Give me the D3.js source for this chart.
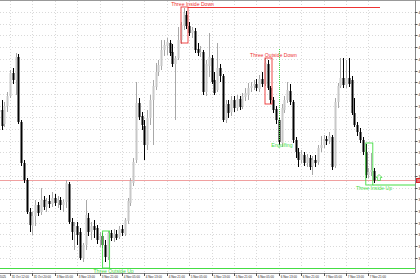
<!DOCTYPE html>
<meta charset="utf-8">
<script src="https://d3js.org/d3.v7.min.js"></script>
<style>
  body { margin: 0; background: #fff; }
  svg { display: block; }
</style>
<div id="chart"></div>
<script>

// hourly bars, 31 Oct 08:00 .. 7 Nov 23:00
var opens = [3994,3995,3988,3997,4002,4013.5,4010,4021.5,3989,3968.5,3960,3944,3937,3942,3947.5,3944,3950,3946.5,3949.5,3948,
  3951,3948.5,3950,3947.5,3949,3958,3939,3934,3937,3934,3921,3927.5,3941,3934,3937,3936,3930,3932,3927.5,3921.5,
  3933.5,3931,3933,3931.5,3935.5,3933,3939.5,3948.5,3958.5,3970,3998.5,3992,3987,3977.5,3991,4000,4006.5,4014,4017,4025,
  4027,4028.5,4024,4018,4021,4030,4037,4042.5,4037,4033.5,4034.5,4025.5,4023.5,4024,4004,4017,4021,4010,4005,4016,
  4012,3990,3998,3994,4000,3996,4000.5,3997,4001.5,4002.5,4006,4007,4008,4005.5,4010.5,4008,4018,4006,4000,3995.5,
  3990,3978.5,3995,4000,4004.5,3999,3980,3974,3970,3972.5,3968.5,3971,3967,3970,3969,3976,3977.5,3980.5,3979.5,3981.5,
  3967,3999,4007,4011,4007.5,4011,4010,3993.5,3987.5,3984,3980,3974,3962.5,3964,3964.5];
var highs = [3997.5,4000,3999,4004,4015,4016,4023.5,4023,3990,3970,3961,3946,3944,3950,3949,3956,3952,3951,3952.5,3954,
  3953,3952,3951.5,3950.5,3960,3959,3941,3939,3939,3936,3928.5,3950,3943.5,3939,3940,3937.5,3934,3933.5,3930,3934.5,
  3935,3935.5,3935,3937,3937.5,3941,3951,3961,3971,4009,4001,3994,3990,3995,4002.5,4010,4018.5,4020,4030,4030,
  4031,4030,4028,4022,4036.5,4039,4046,4044.5,4039,4036.5,4036,4028.5,4027,4025,4020,4033.5,4022.5,4014,4028.5,4018,
  4013,4000,4000,4002,4002,4002.5,4002,4003.5,4006,4008.5,4009,4010,4010.5,4012.5,4014,4021,4020,4007,4001.5,3997,
  3991.5,3998,4002,4009,4008,4000,3981.5,3976,3975,3974,3973,3972.5,3972,3972.5,3977.5,3982,3982.5,3982,3984,3982.5,
  4001,4008.5,4021,4021,4020,4021,4012,4001,3989,3986,3981.5,3978,3966,3973.5,3966];
var lows = [3991,3985,3986.5,3994,4001,4008,4002.5,3988,3967,3958.5,3943,3934,3932.5,3937,3942,3942.5,3945,3944,3946,3946.5,
  3947,3946,3945,3944,3946,3938,3930,3925,3927.5,3920,3919,3925,3932,3930,3931,3928,3926.5,3926,3919,3920,
  3929.5,3929,3930,3930.5,3932,3932,3938,3947,3957,3968.5,3990,3985,3970,3975,3987.5,3977.5,4005,4012,4015,4022,
  4022.5,4022,4016.5,3990,4020,4028,4035,4035.5,4032,4031,4023.5,4022,4021.5,4002.5,4002,4011.5,4008,4002.5,4004,4009,
  3989,3988.5,3991,3992,3994,3994.5,3995,3995.5,3999.5,4000,4004,4005,4004.5,4004,4006.5,4007,4005,3998,3993.5,3988,
  3977.5,3976.5,3993.5,3998.5,3997.5,3978.5,3971,3966.5,3968.5,3967,3966.5,3965,3962.5,3966.5,3967.5,3974,3976,3977.5,3978,3965,
  3966,3996,4006,4006,4006,4006.5,3992.5,3986.5,3982,3978.5,3972.5,3961,3961,3962,3958.5];
var closes = [3995,3987,3997,4002,4013.5,4010,4021.5,3989,3968.5,3960,3944,3937.5,3942,3947.5,3943.5,3950,3946.5,3949.5,3948,3951,
  3948.5,3950,3947.5,3949,3958.5,3939,3934,3937,3932.5,3921,3927.5,3942.5,3934,3937,3935,3930,3932,3927.5,3921.5,3933.5,
  3931,3933,3931,3935.5,3933.5,3940,3949.5,3959.5,3969,3998.5,3991.5,3987.5,3977.5,3991,4000,4007,4014,4017.5,4025,4027.5,
  4029,4023.5,4018,4021,4030,4037.5,4043.5,4037,4033.5,4035,4025,4023.5,4024,4004,4018,4021.5,4009,4003.5,4016,4012,
  3990,3998,3993.5,4000,3996,4000.5,3996.5,4002,4003.5,4006,4007,4008,4006,4010.5,4008,4018.5,4006,4000,3995,3990,
  3979,3996,4000,4005,3999,3980,3974,3970,3973,3968.5,3971.5,3966.5,3970,3968.5,3976,3977.5,3980.5,3979.5,3982,3966.5,
  3999,4007,4011,4007.5,4011,4008,3993.5,3987.5,3984,3980,3974,3962.5,3964,3965,3959.75];

// time axis: bar index of each label and its text
var tickBars = [-4,4,12,20,28,36,44,52,60,68,76,84,92,100,108,116,124,132];
var tickLabels = ["31 Oct 2025","31 Oct 12:00","31 Oct 20:00","3 Nov 05:00","3 Nov 13:00","3 Nov 21:00","4 Nov 05:00",
  "4 Nov 13:00","4 Nov 21:00","5 Nov 05:00","5 Nov 13:00","5 Nov 21:00","6 Nov 05:00","6 Nov 13:00","6 Nov 21:00",
  "7 Nov 05:00","7 Nov 13:00","7 Nov 21:00"];

// price axis labels
var priceTicks = [4044.00,4038.15,4032.30,4026.45,4020.60,4014.75,4008.90,4003.05,3997.20,3991.35,3985.50,
  3979.65,3973.80,3967.95,3962.10,3956.25,3950.40,3944.55,3938.70,3932.85,3927.00,3921.15];

var lastPrice = 3959.75;
var supportLevel = 3915.75;

// detected patterns: first bar, last bar, box top / bottom price, label anchor bar
var patNames  = ["Three Inside Down","Three Outside Down","Three Inside Up","Three Outside Up"];
var patStart  = [65, 95, 131, 37];
var patEnd    = [67, 97, 133, 39];
var patTop    = [4046.5, 4021, 3978.5, 3934.5];
var patBottom = [4028.5, 3998, 3957.5, 3916];
var patBull   = [false, false, true, true];
var patLabelAt = [69.2, 98.1, 134, 41];

var W = 420, H = 280, plotR = 415, plotB = 273;

var svg = d3.select("#chart").append("svg")
  .attr("width", W).attr("height", H)
  .style("font-family", "'Liberation Sans', Arial, sans-serif");

var x = d3.scaleLinear().domain([0, 134]).range([-1.2, 374]);
var y = d3.scaleLinear().domain([4050, 3910]).range([0, 280]);

var red = "#ee3333", green = "#44dd44";

// grid
svg.append("g").selectAll("line").data(tickBars).join("line")
  .attr("x1", d => Math.round(x(d)) + 0.5).attr("x2", d => Math.round(x(d)) + 0.5)
  .attr("y1", 1).attr("y2", plotB)
  .attr("stroke", "#d9d9d9").attr("stroke-dasharray", "1,2");
svg.append("g").selectAll("line").data(priceTicks).join("line")
  .attr("x1", 0).attr("x2", plotR)
  .attr("y1", d => Math.round(y(d)) + 0.5).attr("y2", d => Math.round(y(d)) + 0.5)
  .attr("stroke", "#d9d9d9").attr("stroke-dasharray", "1,2");

// levels
svg.append("line").attr("x1", 0).attr("x2", plotR)
  .attr("y1", y(lastPrice)).attr("y2", y(lastPrice))
  .attr("stroke", "#f0a0a0").attr("stroke-width", 1);
svg.append("line").attr("x1", 0).attr("x2", plotR)
  .attr("y1", y(supportLevel)).attr("y2", y(supportLevel))
  .attr("stroke", green).attr("stroke-width", 1.2);

// pattern boxes and extension lines
var pats = patNames.map(function(n, i) {
  return {name: n, s: patStart[i], e: patEnd[i], top: patTop[i], bot: patBottom[i],
          bull: patBull[i], at: patLabelAt[i]};
});
svg.append("line")
  .attr("x1", x(patEnd[0]) + 1.5).attr("x2", 380)
  .attr("y1", y(patTop[0]) + 0.5).attr("y2", y(patTop[0]) + 0.5)
  .attr("stroke", red);
svg.append("line")
  .attr("x1", x(patEnd[2]) + 1.5).attr("x2", plotR)
  .attr("y1", y(patBottom[2])).attr("y2", y(patBottom[2]))
  .attr("stroke", green);

// candles
var bars = d3.range(opens.length).map(function(i) {
  return {i: i, o: opens[i], h: highs[i], l: lows[i], c: closes[i]};
});
var cg = svg.append("g");
cg.selectAll("line").data(bars).join("line")
  .attr("x1", d => Math.round(x(d.i)) + 0.5).attr("x2", d => Math.round(x(d.i)) + 0.5)
  .attr("y1", d => y(d.h)).attr("y2", d => y(d.l))
  .attr("stroke", d => d.c >= d.o ? "#a8a8a8" : "#000");
cg.selectAll("rect").data(bars).join("rect")
  .attr("x", d => Math.round(x(d.i)) - 0.5)
  .attr("width", 2)
  .attr("y", d => y(Math.max(d.o, d.c)))
  .attr("height", d => Math.max(1, Math.abs(y(d.o) - y(d.c))))
  .attr("fill", d => d.c >= d.o ? "#c8c8c8" : "#000");

svg.append("g").selectAll("rect").data(pats).join("rect")
  .attr("x", d => x(d.s) + 0.2).attr("width", d => x(d.e) - x(d.s) + 1.4)
  .attr("y", d => y(d.top)).attr("height", d => y(d.bot) - y(d.top))
  .attr("fill", "none").attr("stroke", d => d.bull ? green : red).attr("stroke-width", 0.9);

svg.append("g").selectAll("text").data(pats).join("text")
  .attr("x", d => x(d.at))
  .attr("y", d => d.bull ? y(d.bot) + 4.8 : y(d.top) - 1.2)
  .attr("text-anchor", "middle")
  .attr("font-size", 5.1)
  .attr("fill", d => d.bull ? green : red)
  .text(d => d.name);

// engulfing marker
svg.append("line")
  .attr("x1", Math.round(x(100)) + 0.5).attr("x2", Math.round(x(100)) + 0.5)
  .attr("y1", y(4025.5)).attr("y2", y(3980))
  .attr("stroke", green).attr("stroke-dasharray", "1,1");
svg.append("text")
  .attr("x", x(101.1)).attr("y", y(3976.5))
  .attr("text-anchor", "middle").attr("font-size", 5.1)
  .attr("fill", green).text("Engulfing");

// arrow at the last bar
var ax = x(134) + 5, ay = y(3961);
svg.append("path")
  .attr("d", "M" + ax + "," + (ay - 3.5) + " l3,3 h-1.6 v3 h-2.8 v-3 h-1.6 z")
  .attr("fill", "none").attr("stroke", green).attr("stroke-width", 0.8);

// frame
svg.append("line").attr("x1", 0).attr("x2", W).attr("y1", 0.5).attr("y2", 0.5)
  .attr("stroke", "#999");
svg.append("line").attr("x1", plotR + 0.5).attr("x2", plotR + 0.5).attr("y1", 0).attr("y2", plotB)
  .attr("stroke", "#888");
svg.append("line").attr("x1", 0).attr("x2", plotR).attr("y1", plotB + 0.5).attr("y2", plotB + 0.5)
  .attr("stroke", "#888");

// price axis
var pa = svg.append("g").selectAll("g").data(priceTicks).join("g")
  .attr("transform", d => "translate(" + plotR + "," + (Math.round(y(d)) + 0.5) + ")");
pa.append("line").attr("x2", 2.5).attr("stroke", "#555");
pa.append("text").attr("x", 3.5).attr("dy", 1.2).attr("font-size", 3.4).attr("fill", "#222")
  .text(d => d.toFixed(2));

svg.append("rect").attr("x", plotR + 1).attr("y", y(lastPrice) - 2.5)
  .attr("width", 6).attr("height", 5).attr("fill", "#dd2222");
svg.append("text").attr("x", plotR + 2).attr("y", y(lastPrice) + 1.2)
  .attr("font-size", 3.4).attr("fill", "#fff").text(lastPrice.toFixed(2));

// time axis
var ta = svg.append("g").selectAll("g").data(tickBars).join("g")
  .attr("transform", d => "translate(" + (Math.round(x(d)) + 0.5) + "," + plotB + ")");
ta.append("line").attr("y2", 3).attr("stroke", "#555");
ta.append("text").attr("x", 1.2).attr("y", 5.4).attr("font-size", 3.0).attr("fill", "#222")
  .text((d, i) => tickLabels[i]);

</script>
